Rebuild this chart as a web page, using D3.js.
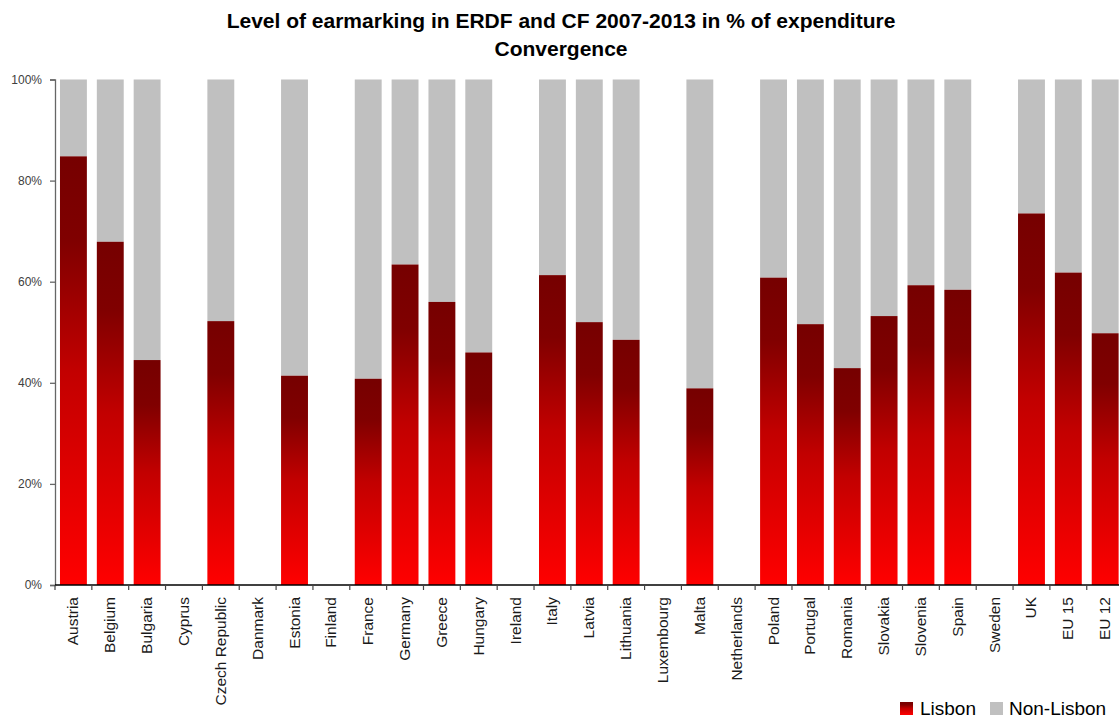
<!DOCTYPE html>
<html>
<head>
<meta charset="utf-8">
<script src="https://cdn.jsdelivr.net/npm/d3@7"></script>
<style>
  html, body { margin: 0; padding: 0; background: #fff; }
  svg { display: block; font-family: "Liberation Sans", Arial, sans-serif; }
</style>
</head>
<body>
<svg id="chart" width="1119" height="719"></svg>
<script>
// Share of ERDF and CF 2007-2013 expenditure earmarked for Lisbon objectives, Convergence regions
const countries = ["Austria", "Belgium", "Bulgaria", "Cyprus", "Czech Republic", "Danmark", "Estonia",
  "Finland", "France", "Germany", "Greece", "Hungary", "Ireland", "Italy", "Latvia", "Lithuania",
  "Luxembourg", "Malta", "Netherlands", "Poland", "Portugal", "Romania", "Slovakia", "Slovenia",
  "Spain", "Sweden", "UK", "EU 15", "EU 12"];

// Lisbon share in % (null = no Convergence allocation)
const lisbon = [84.8, 67.9, 44.5, null, 52.2, null, 41.4,
  null, 40.8, 63.4, 56.0, 46.0, null, 61.3, 52.0, 48.5,
  null, 38.9, null, 60.8, 51.6, 42.9, 53.2, 59.3,
  58.4, null, 73.5, 61.8, 49.8];

// Non-Lisbon share in %
const nonLisbon = [15.2, 32.1, 55.5, null, 47.8, null, 58.6,
  null, 59.2, 36.6, 44.0, 54.0, null, 38.7, 48.0, 51.5,
  null, 61.1, null, 39.2, 48.4, 57.1, 46.8, 40.7,
  41.6, null, 26.5, 38.2, 50.2];

const yTicks = [0, 20, 40, 60, 80, 100];
const seriesNames = ["Lisbon", "Non-Lisbon"];

const svg = d3.select("#chart");
const plot = { left: 55, right: 1123.6, top: 79.5, bottom: 585 };

const x = d3.scaleBand()
  .domain(countries)
  .range([plot.left, plot.right])
  .paddingInner(0.27)
  .paddingOuter(0.135);

const y = d3.scaleLinear().domain([0, 100]).range([plot.bottom, plot.top]);

// Vertical gradient for the Lisbon bars: dark red at the top, bright red at the base
const defs = svg.append("defs");
const grad = defs.append("linearGradient")
  .attr("id", "lisbonGrad")
  .attr("x1", 0).attr("y1", 0).attr("x2", 0).attr("y2", 1);
grad.append("stop").attr("offset", 0).attr("stop-color", "#760000");
grad.append("stop").attr("offset", 0.2).attr("stop-color", "#800000");
grad.append("stop").attr("offset", 0.5).attr("stop-color", "#c20000");
grad.append("stop").attr("offset", 1).attr("stop-color", "#ff0000");

const rows = countries.map((c, i) => ({ c, lisbon: lisbon[i], nonLisbon: nonLisbon[i] }))
  .filter(d => d.lisbon !== null);

// Non-Lisbon segment stacked on top of Lisbon
svg.append("g").selectAll("rect")
  .data(rows)
  .join("rect")
  .attr("x", d => x(d.c))
  .attr("width", x.bandwidth())
  .attr("y", d => y(d.lisbon + d.nonLisbon))
  .attr("height", d => y(d.lisbon) - y(d.lisbon + d.nonLisbon))
  .attr("fill", "#c0c0c0");

svg.append("g").selectAll("rect")
  .data(rows)
  .join("rect")
  .attr("x", d => x(d.c))
  .attr("width", x.bandwidth())
  .attr("y", d => y(d.lisbon))
  .attr("height", d => y(0) - y(d.lisbon))
  .attr("fill", "url(#lisbonGrad)");

// Y axis
const yAxis = svg.append("g")
  .attr("transform", `translate(${plot.left},0)`)
  .call(d3.axisLeft(y).tickValues(yTicks).tickFormat(d => d + "%").tickSize(5).tickPadding(8));
yAxis.select(".domain").attr("stroke", "#666").attr("stroke-width", 1.3);
yAxis.selectAll(".tick line").attr("stroke", "#666").attr("stroke-width", 1.3);
yAxis.selectAll("text").attr("font-size", 12).attr("fill", "#404040")
  .attr("font-family", "'Liberation Sans Narrow', 'Liberation Sans', Arial, sans-serif");

// X axis with category boundary ticks
const xAxisG = svg.append("g").attr("transform", `translate(0,${plot.bottom})`);
xAxisG.append("line")
  .attr("x1", plot.left).attr("x2", plot.right)
  .attr("stroke", "#000").attr("stroke-width", 1.3);
const bounds = d3.range(countries.length + 1).map(i => plot.left + i * x.step());
xAxisG.selectAll(".bt")
  .data(bounds)
  .join("line")
  .attr("class", "bt")
  .attr("x1", d => d).attr("x2", d => d)
  .attr("y1", 0).attr("y2", 5)
  .attr("stroke", "#444").attr("stroke-width", 1.2);
xAxisG.selectAll(".cl")
  .data(countries)
  .join("text")
  .attr("class", "cl")
  .attr("transform", d => `translate(${x(d) + x.bandwidth() / 2 + 5},12) rotate(-90)`)
  .attr("text-anchor", "end")
  .attr("font-size", 15.5)
  .attr("fill", "#1a1a1a")
  .text(d => d);

// Title
const title = svg.append("text")
  .attr("x", 561)
  .attr("text-anchor", "middle")
  .attr("font-weight", "bold")
  .attr("font-size", 21)
  .attr("fill", "#000");
title.append("tspan").attr("x", 561).attr("y", 28)
  .text("Level of earmarking in ERDF and CF 2007-2013 in % of expenditure");
title.append("tspan").attr("x", 561).attr("y", 56).text("Convergence");

// Legend
const legend = svg.append("g");
const legendItems = [
  { name: seriesNames[0], fill: "url(#lisbonGrad)", sx: 900, tx: 920 },
  { name: seriesNames[1], fill: "#c0c0c0", sx: 990, tx: 1009 }
];
legendItems.forEach(it => {
  legend.append("rect").attr("x", it.sx).attr("y", 702).attr("width", 13).attr("height", 13)
    .attr("fill", it.fill);
  legend.append("text").attr("x", it.tx).attr("y", 715)
    .attr("font-size", 19).attr("fill", "#000").text(it.name);
});
</script>
</body>
</html>
